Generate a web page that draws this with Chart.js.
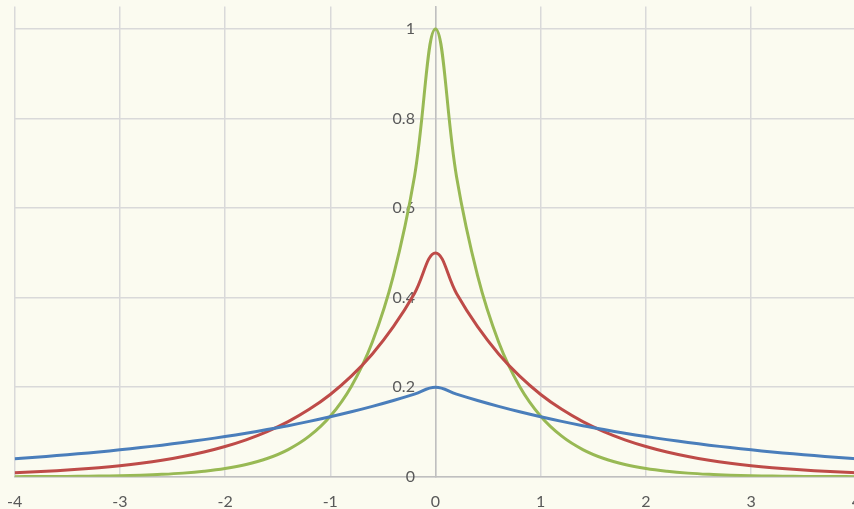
<!DOCTYPE html>
<html><head><meta charset="utf-8">
<script src="https://cdn.jsdelivr.net/npm/chart.js@4/dist/chart.umd.min.js"></script>
<style>
html,body{margin:0;padding:0;overflow:hidden;background:#FBFBF0;width:854px;height:509px;}
#wrap{width:884px;height:533px;position:absolute;left:-8px;top:-21px;}
</style></head><body>
<div id="wrap"><canvas id="c"></canvas></div>
<script>
const xValues = [-4,-3.8,-3.6,-3.4,-3.2,-3,-2.8,-2.6,-2.4,-2.2,-2,-1.8,-1.6,-1.4,-1.2,-1,-0.8,-0.6,-0.4,-0.2,0,0.2,0.4,0.6,0.8,1,1.2,1.4,1.6,1.8,2,2.2,2.4,2.6,2.8,3,3.2,3.4,3.6,3.8,4];
const blueHalf  = [0.2,0.1846,0.1704,0.1573,0.1452,0.1341,0.1238,0.1142,0.1055,0.0974,0.0899,0.0830,0.0766,0.0707,0.0653,0.0602,0.0556,0.0513,0.0474,0.0437,0.0404];
const redHalf   = [0.5,0.4094,0.3352,0.2744,0.2247,0.1839,0.1506,0.1233,0.1009,0.0826,0.0677,0.0554,0.0454,0.0371,0.0304,0.0249,0.0204,0.0167,0.0137,0.0112,0.0092];
const greenHalf = [1,0.6703,0.4493,0.3012,0.2019,0.1353,0.0907,0.0608,0.0408,0.0273,0.0183,0.0123,0.0082,0.0055,0.0037,0.0025,0.0017,0.0011,0.0007,0.0005,0.0003];
const xTicks = [-4,-3,-2,-1,0,1,2,3,4];
const yTicks = [0,0.2,0.4,0.6,0.8,1];

function full(half){ return half.slice(1).reverse().concat(half); }
function pts(vals){ return xValues.map((x,i)=>({x:x,y:vals[i]})); }

const blue = full(blueHalf), red = full(redHalf), green = full(greenHalf);

const bgPlugin = {id:'bg',beforeDraw(c){const g=c.ctx;g.save();g.fillStyle='#FBFBF0';g.fillRect(0,0,c.width,c.height);g.restore();}};

new Chart(document.getElementById('c'),{
  type:'line',
  data:{datasets:[
    {data:pts(blue),borderColor:'#4A7EBB',borderWidth:3,pointRadius:0,tension:0.4,fill:false},
    {data:pts(red),borderColor:'#BE4B48',borderWidth:3,pointRadius:0,tension:0.4,fill:false},
    {data:pts(green),borderColor:'#98B954',borderWidth:3,pointRadius:0,tension:0.4,fill:false}
  ]},
  plugins:[bgPlugin],
  options:{
    responsive:true,maintainAspectRatio:false,animation:false,
    layout:{padding:{left:9,right:8,top:-14,bottom:-14}},
    plugins:{legend:{display:false},tooltip:{enabled:false}},
    scales:{
      x:{type:'linear',min:-4,max:4,
        afterBuildTicks(s){s.ticks=xTicks.map(v=>({value:v}));},
        grid:{color:'#D9D9D9',lineWidth:1.5,drawTicks:false},
        border:{color:'#BFBFBF',width:1.5},
        ticks:{color:'#595959',font:{family:'Lato',size:16},padding:15,maxRotation:0,autoSkip:false,
          callback:v=>String(v)}
      },
      y:{type:'linear',min:0,max:1.05,position:{x:0},
        afterBuildTicks(s){s.ticks=yTicks.map(v=>({value:v}));},
        grid:{color:'#D9D9D9',lineWidth:1.5,drawTicks:false},
        border:{color:'#BFBFBF',width:1.5},
        ticks:{color:'#595959',font:{family:'Lato',size:16},padding:18,
          callback:v=>String(v)+'\u2007\u2007\u2009'}
      }
    }
  }
});
</script></body></html>
